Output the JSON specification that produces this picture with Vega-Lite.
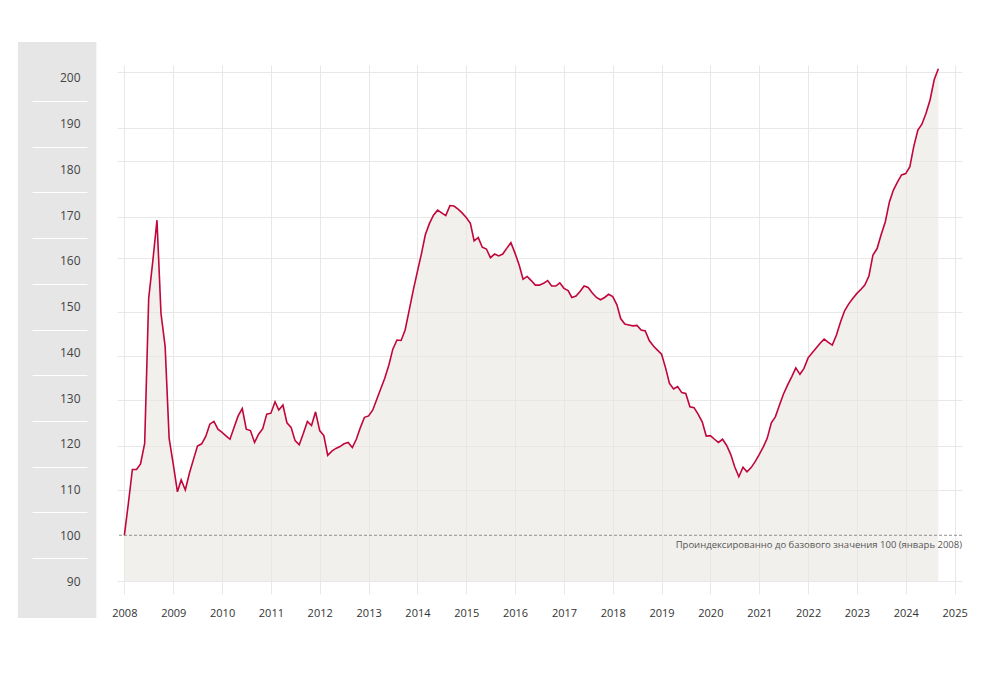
{
  "$schema": "https://vega.github.io/schema/vega-lite/v6.json",
  "width": 845,
  "height": 529,
  "autosize": {"type": "none"},
  "padding": {"left": 117, "top": 65, "right": 38, "bottom": 81},
  "background": "white",
  "config": {"view": {"stroke": null}, "font": "Open Sans"},
  "data": {"values": [
    {"date": "2008-01-01", "value": 100}, {"date": "2008-02-01", "value": 107.2}, {"date": "2008-03-01", "value": 114.4}, {"date": "2008-04-01", "value": 114.4}, {"date": "2008-05-01", "value": 115.6}, {"date": "2008-06-01", "value": 120.1}, {"date": "2008-07-01", "value": 151.8}, {"date": "2008-08-01", "value": 160}, {"date": "2008-09-01", "value": 168.9}, {"date": "2008-10-01", "value": 148.5}, {"date": "2008-11-01", "value": 141.3}, {"date": "2008-12-01", "value": 121.2},
    {"date": "2009-01-01", "value": 115.5}, {"date": "2009-02-01", "value": 109.5}, {"date": "2009-03-01", "value": 112.1}, {"date": "2009-04-01", "value": 109.9}, {"date": "2009-05-01", "value": 113.5}, {"date": "2009-06-01", "value": 116.6}, {"date": "2009-07-01", "value": 119.5}, {"date": "2009-08-01", "value": 120.0}, {"date": "2009-09-01", "value": 121.6}, {"date": "2009-10-01", "value": 124.3}, {"date": "2009-11-01", "value": 124.9}, {"date": "2009-12-01", "value": 123.2},
    {"date": "2010-01-01", "value": 122.5}, {"date": "2010-02-01", "value": 121.7}, {"date": "2010-03-01", "value": 121.0}, {"date": "2010-04-01", "value": 123.6}, {"date": "2010-05-01", "value": 126.1}, {"date": "2010-06-01", "value": 127.7}, {"date": "2010-07-01", "value": 123.2}, {"date": "2010-08-01", "value": 122.9}, {"date": "2010-09-01", "value": 120.3}, {"date": "2010-10-01", "value": 122.1}, {"date": "2010-11-01", "value": 123.3}, {"date": "2010-12-01", "value": 126.5},
    {"date": "2011-01-01", "value": 126.7}, {"date": "2011-02-01", "value": 129.2}, {"date": "2011-03-01", "value": 127.4}, {"date": "2011-04-01", "value": 128.5}, {"date": "2011-05-01", "value": 124.6}, {"date": "2011-06-01", "value": 123.6}, {"date": "2011-07-01", "value": 120.7}, {"date": "2011-08-01", "value": 119.8}, {"date": "2011-09-01", "value": 122.3}, {"date": "2011-10-01", "value": 124.9}, {"date": "2011-11-01", "value": 124.0}, {"date": "2011-12-01", "value": 127.0},
    {"date": "2012-01-01", "value": 122.9}, {"date": "2012-02-01", "value": 121.8}, {"date": "2012-03-01", "value": 117.5}, {"date": "2012-04-01", "value": 118.4}, {"date": "2012-05-01", "value": 119.0}, {"date": "2012-06-01", "value": 119.4}, {"date": "2012-07-01", "value": 120.0}, {"date": "2012-08-01", "value": 120.3}, {"date": "2012-09-01", "value": 119.2}, {"date": "2012-10-01", "value": 121.0}, {"date": "2012-11-01", "value": 123.6}, {"date": "2012-12-01", "value": 125.8},
    {"date": "2013-01-01", "value": 126.1}, {"date": "2013-02-01", "value": 127.4}, {"date": "2013-03-01", "value": 129.6}, {"date": "2013-04-01", "value": 132.0}, {"date": "2013-05-01", "value": 134.3}, {"date": "2013-06-01", "value": 137.2}, {"date": "2013-07-01", "value": 140.7}, {"date": "2013-08-01", "value": 142.7}, {"date": "2013-09-01", "value": 142.6}, {"date": "2013-10-01", "value": 144.9}, {"date": "2013-11-01", "value": 149.3}, {"date": "2013-12-01", "value": 153.6},
    {"date": "2014-01-01", "value": 157.7}, {"date": "2014-02-01", "value": 161.7}, {"date": "2014-03-01", "value": 165.7}, {"date": "2014-04-01", "value": 168.2}, {"date": "2014-05-01", "value": 170.0}, {"date": "2014-06-01", "value": 171.1}, {"date": "2014-07-01", "value": 170.5}, {"date": "2014-08-01", "value": 169.9}, {"date": "2014-09-01", "value": 172.1}, {"date": "2014-10-01", "value": 172.0}, {"date": "2014-11-01", "value": 171.3}, {"date": "2014-12-01", "value": 170.5},
    {"date": "2015-01-01", "value": 169.5}, {"date": "2015-02-01", "value": 168.2}, {"date": "2015-03-01", "value": 164.4}, {"date": "2015-04-01", "value": 165.1}, {"date": "2015-05-01", "value": 163.0}, {"date": "2015-06-01", "value": 162.6}, {"date": "2015-07-01", "value": 160.7}, {"date": "2015-08-01", "value": 161.5}, {"date": "2015-09-01", "value": 161.1}, {"date": "2015-10-01", "value": 161.5}, {"date": "2015-11-01", "value": 162.8}, {"date": "2015-12-01", "value": 164.0},
    {"date": "2016-01-01", "value": 161.7}, {"date": "2016-02-01", "value": 159.1}, {"date": "2016-03-01", "value": 156.0}, {"date": "2016-04-01", "value": 156.6}, {"date": "2016-05-01", "value": 155.7}, {"date": "2016-06-01", "value": 154.7}, {"date": "2016-07-01", "value": 154.7}, {"date": "2016-08-01", "value": 155.1}, {"date": "2016-09-01", "value": 155.7}, {"date": "2016-10-01", "value": 154.5}, {"date": "2016-11-01", "value": 154.5}, {"date": "2016-12-01", "value": 155.2},
    {"date": "2017-01-01", "value": 154.0}, {"date": "2017-02-01", "value": 153.5}, {"date": "2017-03-01", "value": 152.0}, {"date": "2017-04-01", "value": 152.3}, {"date": "2017-05-01", "value": 153.3}, {"date": "2017-06-01", "value": 154.5}, {"date": "2017-07-01", "value": 154.2}, {"date": "2017-08-01", "value": 153.0}, {"date": "2017-09-01", "value": 152.0}, {"date": "2017-10-01", "value": 151.5}, {"date": "2017-11-01", "value": 152.0}, {"date": "2017-12-01", "value": 152.7},
    {"date": "2018-01-01", "value": 152.2}, {"date": "2018-02-01", "value": 150.4}, {"date": "2018-03-01", "value": 147.4}, {"date": "2018-04-01", "value": 146.2}, {"date": "2018-05-01", "value": 146.0}, {"date": "2018-06-01", "value": 145.8}, {"date": "2018-07-01", "value": 145.9}, {"date": "2018-08-01", "value": 144.9}, {"date": "2018-09-01", "value": 144.7}, {"date": "2018-10-01", "value": 142.6}, {"date": "2018-11-01", "value": 141.4}, {"date": "2018-12-01", "value": 140.5},
    {"date": "2019-01-01", "value": 139.6}, {"date": "2019-02-01", "value": 136.5}, {"date": "2019-03-01", "value": 133.2}, {"date": "2019-04-01", "value": 132.0}, {"date": "2019-05-01", "value": 132.5}, {"date": "2019-06-01", "value": 131.2}, {"date": "2019-07-01", "value": 131.0}, {"date": "2019-08-01", "value": 128.1}, {"date": "2019-09-01", "value": 127.9}, {"date": "2019-10-01", "value": 126.5}, {"date": "2019-11-01", "value": 124.8}, {"date": "2019-12-01", "value": 121.7},
    {"date": "2020-01-01", "value": 121.8}, {"date": "2020-02-01", "value": 121.0}, {"date": "2020-03-01", "value": 120.3}, {"date": "2020-04-01", "value": 121.0}, {"date": "2020-05-01", "value": 119.7}, {"date": "2020-06-01", "value": 117.7}, {"date": "2020-07-01", "value": 115.0}, {"date": "2020-08-01", "value": 112.8}, {"date": "2020-09-01", "value": 114.9}, {"date": "2020-10-01", "value": 113.9}, {"date": "2020-11-01", "value": 114.8}, {"date": "2020-12-01", "value": 116.1},
    {"date": "2021-01-01", "value": 117.7}, {"date": "2021-02-01", "value": 119.4}, {"date": "2021-03-01", "value": 121.2}, {"date": "2021-04-01", "value": 124.6}, {"date": "2021-05-01", "value": 125.9}, {"date": "2021-06-01", "value": 128.5}, {"date": "2021-07-01", "value": 130.9}, {"date": "2021-08-01", "value": 132.9}, {"date": "2021-09-01", "value": 134.7}, {"date": "2021-10-01", "value": 136.6}, {"date": "2021-11-01", "value": 135.2}, {"date": "2021-12-01", "value": 136.5},
    {"date": "2022-01-01", "value": 138.8}, {"date": "2022-02-01", "value": 139.9}, {"date": "2022-03-01", "value": 140.9}, {"date": "2022-04-01", "value": 142.0}, {"date": "2022-05-01", "value": 142.9}, {"date": "2022-06-01", "value": 142.2}, {"date": "2022-07-01", "value": 141.6}, {"date": "2022-08-01", "value": 143.8}, {"date": "2022-09-01", "value": 146.7}, {"date": "2022-10-01", "value": 149.1}, {"date": "2022-11-01", "value": 150.6}, {"date": "2022-12-01", "value": 151.8},
    {"date": "2023-01-01", "value": 152.9}, {"date": "2023-02-01", "value": 153.8}, {"date": "2023-03-01", "value": 154.7}, {"date": "2023-04-01", "value": 156.7}, {"date": "2023-05-01", "value": 161.3}, {"date": "2023-06-01", "value": 162.7}, {"date": "2023-07-01", "value": 165.7}, {"date": "2023-08-01", "value": 168.5}, {"date": "2023-09-01", "value": 172.9}, {"date": "2023-10-01", "value": 175.5}, {"date": "2023-11-01", "value": 177.3}, {"date": "2023-12-01", "value": 178.8},
    {"date": "2024-01-01", "value": 179.1}, {"date": "2024-02-01", "value": 180.6}, {"date": "2024-03-01", "value": 185.0}, {"date": "2024-04-01", "value": 188.6}, {"date": "2024-05-01", "value": 189.9}, {"date": "2024-06-01", "value": 192.3}, {"date": "2024-07-01", "value": 195.2}, {"date": "2024-08-01", "value": 199.6}, {"date": "2024-09-01", "value": 202.0}
  ]},
  "layer": [
    {
      "data": {"values": [{}]},
      "mark": {"type": "rect", "color": "#e6e6e6"},
      "encoding": {
        "x": {"datum": {"year": 2005, "month": 10, "date": 27}, "type": "temporal", "title": null},
        "x2": {"datum": {"year": 2007, "month": 6, "date": 6}},
        "y": {
          "datum": 81.92, "type": "quantitative",
          "scale": {"domain": [87.16, 202.84], "nice": false, "zero": false},
          "axis": {
            "orient": "left",
            "values": [90, 95, 100, 105, 110, 115, 120, 125, 130, 135, 140, 145, 150, 155, 160, 165, 170, 175, 180, 185, 190, 195, 200],
            "offset": 30,
            "domain": false,
            "grid": false,
            "ticks": true,
            "tickSize": 55,
            "tickColor": "#ffffff",
            "tickWidth": 1,
            "tickOpacity": {"condition": {"test": "datum.value % 10 != 0", "value": 1}, "value": 0},
            "labelExpr": "datum.value % 10 == 0 ? datum.label : ''",
            "labelPadding": -48,
            "labelFontSize": 12,
            "labelColor": "#444444",
            "labelOverlap": false,
            "labelFont": "Open Sans",
            "title": null,
            "zindex": 1
          }
        },
        "y2": {"datum": 207.87}
      }
    },
    {
      "mark": {"type": "area", "color": "#e9e6df", "opacity": 0.6},
      "encoding": {
        "x": {
          "field": "date", "type": "temporal",
          "scale": {"domain": [{"year": 2007, "month": 11, "date": 7}, {"year": 2025, "month": 2, "date": 25}]},
          "axis": {
            "format": "%Y",
            "tickCount": {"interval": "year", "step": 1},
            "grid": true,
            "gridColor": "#e8e8e8",
            "ticks": false,
            "domain": false,
            "labelPadding": 13,
            "labelFontSize": 11,
            "labelColor": "#333333",
            "labelFlush": false,
            "title": null
          }
        },
        "y": {
          "field": "value", "type": "quantitative",
          "scale": {"domain": [87.16, 202.84], "nice": false, "zero": false},
          "axis": {
            "orient": "left",
            "values": [90.07, 109.8, 119.6, 129.5, 139.2, 148.9, 160.7, 169.7, 181.85, 189.1, 201.2],
            "grid": true,
            "gridColor": "#e8e8e8",
            "ticks": false,
            "labels": false,
            "domain": false,
            "title": null,
            "zindex": 0
          }
        },
        "y2": {"datum": 90}
      }
    },
    {
      "mark": {"type": "line", "color": "#c1063c", "strokeWidth": 1.6},
      "encoding": {
        "x": {"field": "date", "type": "temporal", "title": null},
        "y": {"field": "value", "type": "quantitative", "axis": null}
      }
    },
    {
      "data": {"values": [{}]},
      "mark": {"type": "rule", "color": "#777777", "strokeDash": [3, 2], "strokeWidth": 0.8},
      "encoding": {
        "y": {"datum": 100, "type": "quantitative", "axis": null}
      }
    },
    {
      "data": {"values": [{}]},
      "mark": {"type": "text", "text": "Проиндексированно до базового значения 100 (январь 2008)", "align": "right", "baseline": "middle", "fontSize": 9.5, "color": "#555555", "font": "Open Sans"},
      "encoding": {
        "x": {"datum": {"year": 2025, "month": 2, "date": 25}, "type": "temporal", "title": null},
        "y": {"datum": 97.8, "type": "quantitative", "axis": null}
      }
    }
  ],
  "resolve": {"axis": {"y": "independent"}}
}
